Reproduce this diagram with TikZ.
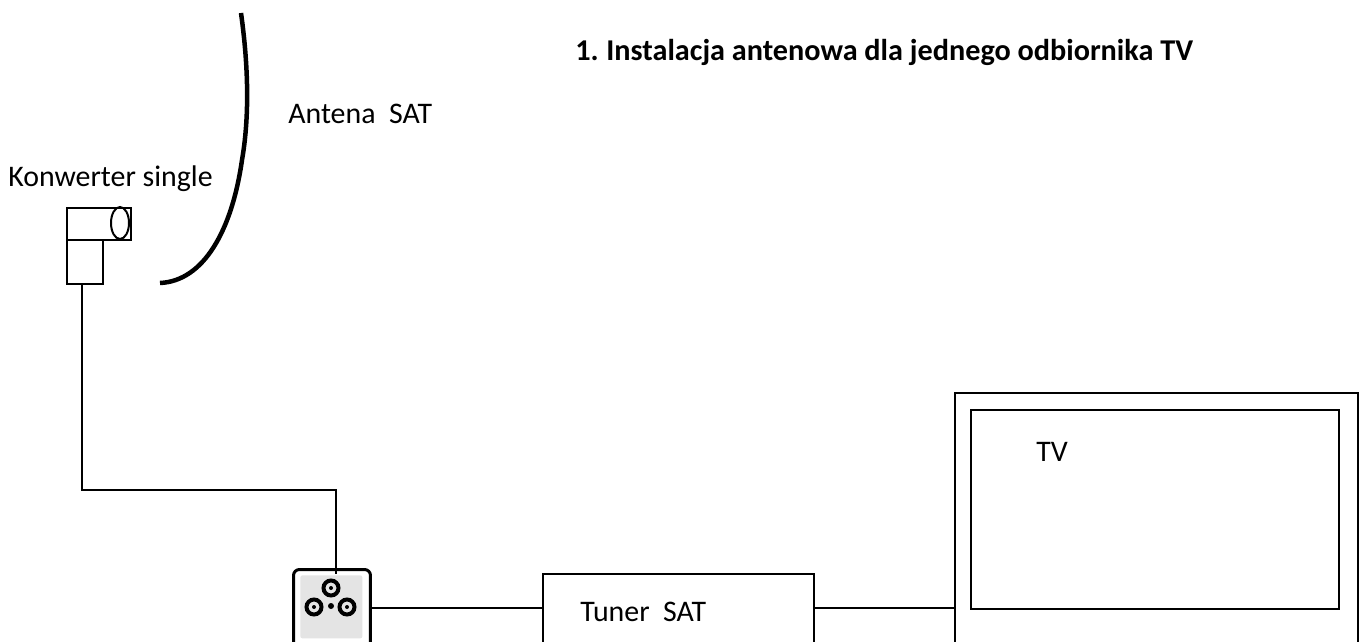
\documentclass[tikz,border=0pt]{standalone}
\usepackage{fontspec}
\setmainfont{Carlito}
\usetikzlibrary{positioning, calc}
\definecolor{socketfill}{RGB}{228,228,228}
\tikzset{
  box/.style={draw, line width=0.04cm, inner sep=0pt},
  wire/.style={line width=0.04cm},
  lbl/.style={font=\fontsize{17}{20}\selectfont, inner sep=0pt, anchor=base west},
  boldlbl/.style={lbl, font=\fontsize{17.2}{20}\bfseries\selectfont},
  port/.style={circle, draw, line width=0.08cm, minimum size=0.3cm, inner sep=0pt},
}
\begin{document}
\begin{tikzpicture}[x=0.02cm, y=-0.02cm]
  \clip (0,0) rectangle (1359,642);
  % antenna
  \draw[line width=0.09cm] (241,13) .. controls (249,70) and (249,120) .. (242,160)
    .. controls (232,230) and (204,281) .. (160,283);
  \node[lbl] (antena) at (288,124) {Antena\ \ SAT};
  % converter
  \node[lbl] (konwlabel) at (8,186) {Konwerter single};
  \node[box, minimum width=1.28cm, minimum height=0.64cm, anchor=north west] (head) at (66,207) {};
  \node[box, minimum width=0.72cm, minimum height=0.88cm, anchor=north west] (lnb) at (66,239) {};
  \draw[wire] (120,223) ellipse (9 and 16);
  % socket
  \node[draw, line width=0.06cm, rounded corners=0.12cm, minimum width=1.54cm, minimum height=1.56cm, anchor=north west] (socket) at (292,568) {};
  \node[fill=socketfill, rounded corners=0.04cm, minimum width=1.24cm, minimum height=1.26cm, anchor=north west] (plate) at (300,575) {};
  \node[port] (pa) at (331,588) {};
  \node[port] (pb) at (314,607) {};
  \node[port] (pc) at (347,607) {};
  \foreach \p in {pa,pb,pc} {
    \fill (\p) circle (2);
  }
  \fill (331,606) circle (3);
  % tuner and tv
  \node[box, minimum width=5.42cm, minimum height=1.6cm, anchor=north west] (tuner) at (542,573) {};
  \node[lbl] (tunerlabel) at (580,621) {Tuner\ \ SAT};
  \node[box, minimum width=8.06cm, minimum height=6cm, anchor=north west] (tvbody) at (954,392) {};
  \node[box, minimum width=7.36cm, minimum height=3.98cm, anchor=north west] (screen) at (970,409) {};
  \node[lbl] (tvlabel) at (1036,461) {TV};
  % wires
  \coordinate (bend) at (82,490);
  \draw[wire] (lnb.south -| bend) -- (bend) -- (336,490) -- (336,574);
  \draw[wire] (socket.east) -- (socket.east -| tuner.west);
  \draw[wire] (socket.east -| tuner.east) -- (socket.east -| tvbody.west);
  % title
  \node[boldlbl] (titlenum) at (575,61) {1.};
  \node[boldlbl] (title) at (606,61) {Instalacja antenowa dla jednego odbiornika TV};
\end{tikzpicture}
\end{document}
